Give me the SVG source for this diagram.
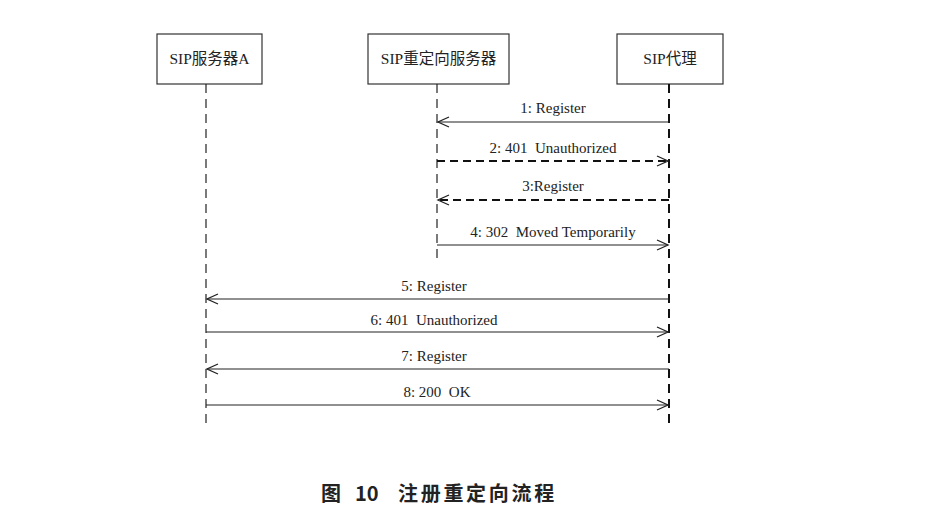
<svg xmlns="http://www.w3.org/2000/svg" width="935" height="522" viewBox="0 0 935 522">
<style>
.box{fill:#fff;stroke:#333;stroke-width:1.2}
.nt{font-family:"Liberation Serif","Noto Sans CJK SC",serif;font-size:15.5px;fill:#222;text-anchor:middle}
.lt{font-family:"Liberation Serif",serif;font-size:15px;fill:#222;text-anchor:middle}
.life{stroke:#222;stroke-width:1.2;stroke-dasharray:9,6;fill:none}
.lifeb{stroke:#111;stroke-width:2;stroke-dasharray:9,6;fill:none}
.msg{stroke:#222;stroke-width:1.2;fill:none;marker-end:url(#ah)}
.dmsg{stroke:#111;stroke-width:1.8;stroke-dasharray:8,5;fill:none;marker-end:url(#ah)}
.cap{font-family:"Noto Sans CJK SC",sans-serif;font-size:20px;font-weight:bold;fill:#222}
</style>
<defs>
<marker id="ah" markerWidth="14" markerHeight="12" refX="12" refY="6" orient="auto" markerUnits="userSpaceOnUse">
<path d="M1,1 L12,6 L1,11" fill="none" stroke="#222" stroke-width="1.3"/>
</marker>
</defs>
<rect width="935" height="522" fill="#fff"/>
<g id="nodeA"><rect class="box" x="157" y="34" width="105" height="50"/><text class="nt" x="209.5" y="64">SIP服务器A</text></g>
<g id="nodeB"><rect class="box" x="368" y="34" width="141" height="50"/><text class="nt" x="438.5" y="64">SIP重定向服务器</text></g>
<g id="nodeC"><rect class="box" x="617" y="34" width="106" height="50"/><text class="nt" x="670" y="64">SIP代理</text></g>
<g id="lifelines">
<line class="life" x1="206" y1="84" x2="206" y2="428"/>
<line class="life" x1="437" y1="84" x2="437" y2="262"/>
<line class="lifeb" x1="669" y1="84" x2="669" y2="428"/>
</g>
<g id="connectors">
<line class="msg" x1="669" y1="122" x2="438" y2="122"/>
<line class="dmsg" x1="437" y1="161" x2="668" y2="161"/>
<line class="dmsg" x1="669" y1="200" x2="438" y2="200"/>
<line class="msg" x1="437" y1="245" x2="668" y2="245"/>
<line class="msg" x1="669" y1="299" x2="207" y2="299"/>
<line class="msg" x1="206" y1="332" x2="668" y2="332"/>
<line class="msg" x1="669" y1="369" x2="207" y2="369"/>
<line class="msg" x1="206" y1="405" x2="668" y2="405"/>
</g>
<g id="labels">
<text class="lt" x="553" y="113">1: Register</text>
<text class="lt" x="553" y="153">2: 401&#160; Unauthorized</text>
<text class="lt" x="553" y="191">3:Register</text>
<text class="lt" x="553" y="237">4: 302&#160; Moved Temporarily</text>
<text class="lt" x="434" y="291">5: Register</text>
<text class="lt" x="434" y="325">6: 401&#160; Unauthorized</text>
<text class="lt" x="434" y="361">7: Register</text>
<text class="lt" x="437" y="397">8: 200&#160; OK</text>
</g>
<g id="caption">
<text class="cap" x="321" y="501">图</text>
<text class="cap" x="355" y="501">10</text>
<text class="cap" x="398" y="501" letter-spacing="2.7">注册重定向流程</text>
</g>
</svg>
